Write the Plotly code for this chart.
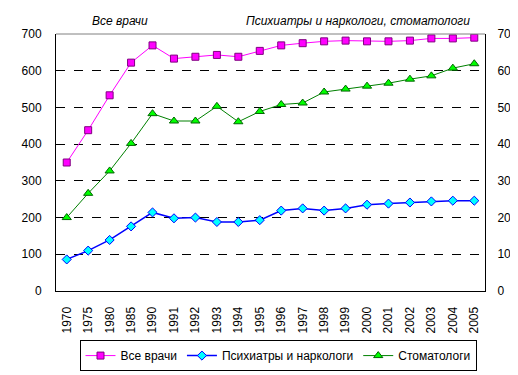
import plotly.graph_objects as go

years = ["1970","1975","1980","1985","1990","1991","1992","1993","1994","1995",
         "1996","1997","1998","1999","2000","2001","2002","2003","2004","2005"]
all_doctors = [350,438,533,622,669,633,638,643,638,654,669,675,680,682,680,680,682,688,688,690]
psychiatrists = [8.6,11.0,13.9,17.6,21.4,19.8,20.0,18.8,18.8,19.3,21.9,22.5,21.9,22.5,23.5,23.8,24.1,24.4,24.6,24.6]
dentists = [20.0,26.6,32.7,40.2,48.3,46.3,46.3,50.3,46.1,48.9,50.8,51.2,54.2,55.0,55.8,56.6,57.7,58.6,60.7,61.9]

FONT = "Liberation Sans, Arial, sans-serif"
FS = 12

fig = go.Figure()
fig.add_trace(go.Scatter(x=years, y=all_doctors, name="Все врачи", mode="lines+markers",
                         line=dict(color="#FF00FF", width=1),
                         marker=dict(symbol="square", size=7, color="#FF00FF",
                                     line=dict(color="#800080", width=1)), yaxis="y"))
fig.add_trace(go.Scatter(x=years, y=psychiatrists, name="Психиатры и наркологи", mode="lines+markers",
                         line=dict(color="#0000FF", width=1.5),
                         marker=dict(symbol="diamond", size=7, color="#00FFFF",
                                     line=dict(color="#0000FF", width=1)), yaxis="y2"))
fig.add_trace(go.Scatter(x=years, y=dentists, name="Стоматологи", mode="lines+markers",
                         line=dict(color="#008000", width=1),
                         marker=dict(symbol="triangle-up", size=8, color="#00FF00",
                                     line=dict(color="#006400", width=1)), yaxis="y2"))

fig.update_layout(
    width=518, height=375,
    margin=dict(l=48, r=41, t=26, b=82),
    paper_bgcolor="white", plot_bgcolor="white",
    font=dict(family=FONT, size=FS, color="black"),
    showlegend=True,
    legend=dict(orientation="h", x=(270-48)/429, xanchor="center", y=-0.191, yanchor="top",
                bordercolor="black", borderwidth=1, font=dict(size=FS),
                tracegroupgap=0),
    xaxis=dict(type="category", tickangle=-90, showline=True, linecolor="black", linewidth=1,
               ticks="", showgrid=False, tickfont=dict(size=FS), range=[-0.5, 19.5],
               ticklabelstandoff=10),
    yaxis=dict(range=[0, 700], dtick=100, showline=True, linecolor="black", linewidth=1,
               showgrid=True, gridcolor="black", griddash="dash", gridwidth=1,
               zeroline=False, ticks="", ticklabelstandoff=11),
    yaxis2=dict(range=[0, 70], dtick=10, overlaying="y", side="right", showline=True,
                linecolor="black", linewidth=1, showgrid=False, zeroline=False,
                ticks="", ticklabelstandoff=9),
    shapes=[dict(type="line", xref="paper", yref="paper", x0=0, x1=1, y0=1, y1=1,
                 line=dict(color="#808080", width=1))],
    annotations=[
        dict(text="<i>Все врачи</i>", xref="paper", yref="paper", x=(82-48)/429, y=1.0, yshift=13,
             showarrow=False, font=dict(size=FS, family=FONT), xanchor="left", yanchor="middle"),
        dict(text="<i>Психиатры и наркологи, стоматологи</i>", xref="paper", yref="paper",
             x=(464-48)/429, y=1.0, yshift=13, showarrow=False, font=dict(size=FS, family=FONT),
             xanchor="right", yanchor="middle"),
    ],
)

fig.write_html("out.html")
